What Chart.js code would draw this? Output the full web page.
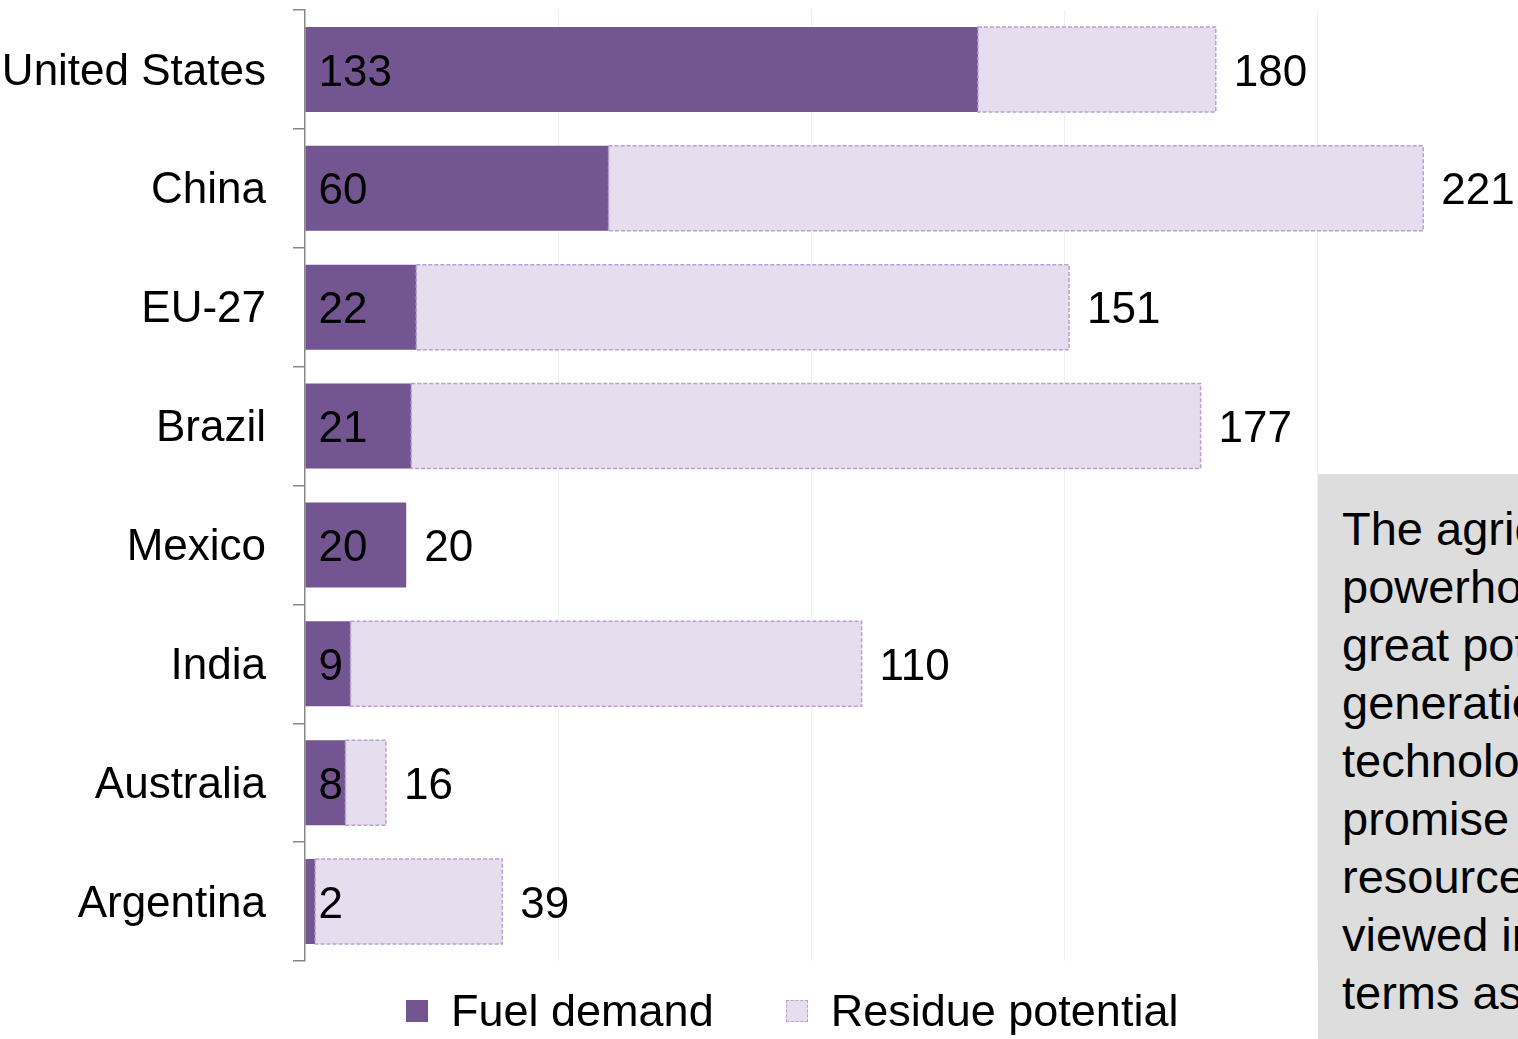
<!DOCTYPE html>
<html>
<head>
<meta charset="utf-8">
<title>Fuel demand vs residue potential</title>
<script src="https://cdn.jsdelivr.net/npm/chart.js@4.4.1/dist/chart.umd.min.js"></script>
<style>
  html, body { margin: 0; padding: 0; overflow: hidden; background: #fff; }
  body { width: 1518px; height: 1039px; position: relative; font-family: 'Liberation Sans', Arial, sans-serif; }
  #wrap { position: absolute; left: 0; top: 0; width: 1582px; height: 1039px; }
  #legend { position: absolute; top: 988px; left: 406px; display: flex; align-items: center; font-size: 45px; line-height: 45px; color: #000; white-space: nowrap; }
  #legend .item { display: flex; align-items: center; }
  #legend .box { width: 22px; height: 22px; margin-right: 23px; box-sizing: border-box; }
  #legend .fuel { background: #735591; }
  #legend .residue { background: #e6deee; border: 1px dashed #b8a0d0; }
  #note { position: absolute; left: 1318px; top: 474px; width: 420px; height: 600px; background: #dddddd; box-sizing: border-box; padding: 26px 0 0 24px; font-size: 47px; line-height: 58px; color: #000; white-space: nowrap; }
</style>
</head>
<body>
<div id="wrap"><canvas id="chart" width="1582" height="1039"></canvas></div>
<div id="legend">
  <div class="item"><div class="box fuel"></div><span>Fuel demand</span></div>
  <div class="item" style="margin-left:72px"><div class="box residue"></div><span>Residue potential</span></div>
</div>
<div id="note">The agricultural<br>powerhouses show<br>great potential for<br>generation biofuel<br>technologies that<br>promise to turn<br>resources that are<br>viewed in simple<br>terms as waste</div>
<script>
const countries = ['United States', 'China', 'EU-27', 'Brazil', 'Mexico', 'India', 'Australia', 'Argentina'];
const fuelDemand = [133, 60, 22, 21, 20, 9, 8, 2];
const residueTotal = [180, 221, 151, 177, 20, 110, 16, 39];

// the stacked segment is whatever the residue total adds on top of fuel demand
const residueExtra = residueTotal.map((t, i) => t - fuelDemand[i]);

const FONT = "'Liberation Sans', Arial, sans-serif";

// Chart.js bars have no dashed border, so stroke it over the residue segments
const dashedBorders = {
  id: 'dashedBorders',
  afterDatasetsDraw(chart) {
    const ctx = chart.ctx;
    const meta = chart.getDatasetMeta(1);
    ctx.save();
    ctx.setLineDash([4, 2]);
    ctx.lineWidth = 1.5;
    ctx.strokeStyle = '#b8a0d0';
    meta.data.forEach((bar, i) => {
      if (!residueExtra[i]) return;
      const p = bar.getProps(['x', 'y', 'base', 'height'], true);
      ctx.strokeRect(p.base, p.y - p.height / 2, p.x - p.base, p.height);
    });
    ctx.restore();
  }
};

// fuel value at the start of each bar, residue total after the stack end
const valueLabels = {
  id: 'valueLabels',
  afterDatasetsDraw(chart) {
    const ctx = chart.ctx;
    const fuelMeta = chart.getDatasetMeta(0);
    const resMeta = chart.getDatasetMeta(1);
    ctx.save();
    ctx.font = '44px ' + FONT;
    ctx.fillStyle = '#000';
    ctx.textBaseline = 'middle';
    ctx.textAlign = 'left';
    fuelMeta.data.forEach((bar, i) => {
      const p = bar.getProps(['x', 'y', 'base'], true);
      ctx.fillText(String(fuelDemand[i]), p.base + 13, p.y + 4);
      const endX = resMeta.data[i].getProps(['x'], true).x;
      ctx.fillText(String(residueTotal[i]), Math.max(endX, p.x) + 18, p.y + 4);
    });
    ctx.restore();
  }
};

new Chart(document.getElementById('chart'), {
  type: 'bar',
  data: {
    labels: countries,
    datasets: [
      {
        label: 'Fuel demand',
        data: fuelDemand,
        backgroundColor: '#735591',
        borderWidth: 0,
        barPercentage: 0.715,
        categoryPercentage: 1
      },
      {
        label: 'Residue potential',
        data: residueExtra,
        backgroundColor: '#e6deee',
        borderWidth: 0,
        barPercentage: 0.715,
        categoryPercentage: 1
      }
    ]
  },
  options: {
    indexAxis: 'y',
    responsive: false,
    animation: false,
    layout: { padding: { top: 10, right: 12, bottom: 78, left: 0 } },
    plugins: {
      legend: { display: false },
      tooltip: { enabled: false }
    },
    scales: {
      x: {
        stacked: true,
        min: 0,
        max: 250,
        ticks: { display: false, stepSize: 50 },
        border: { display: false },
        grid: {
          drawTicks: false,
          color: c => (c.tick && c.tick.value > 0) ? '#f0f0f0' : 'rgba(0,0,0,0)',
          lineWidth: 1
        }
      },
      y: {
        stacked: true,
        afterFit(scale) {
          scale.width = 305;
          // labels sit in the middle of each band, no extra room needed at the ends
          scale.paddingTop = 0;
          scale.paddingBottom = 0;
        },
        border: { display: true, color: '#888', width: 1.5 },
        grid: {
          offset: true,
          drawOnChartArea: false,
          drawTicks: true,
          tickLength: 12,
          color: '#888',
          lineWidth: 1.5
        },
        ticks: {
          padding: 27,
          labelOffset: 3,
          color: '#000',
          font: { family: FONT, size: 44, lineHeight: 1.1 }
        }
      }
    }
  },
  plugins: [dashedBorders, valueLabels]
});
</script>
</body>
</html>
